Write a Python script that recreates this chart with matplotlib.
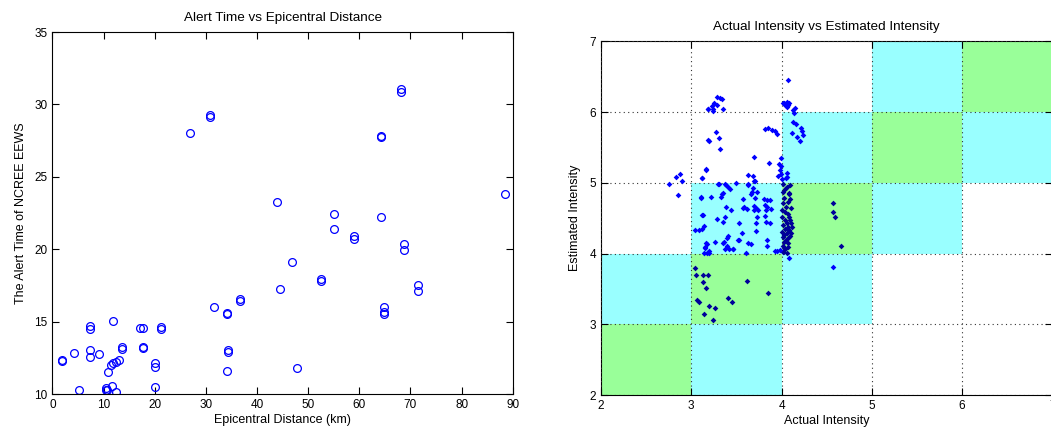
import matplotlib
matplotlib.use("Agg")
import matplotlib.pyplot as plt
from matplotlib.patches import Rectangle

plt.rcParams['font.family'] = ['Liberation Sans', 'DejaVu Sans']

# left panel: epicentral distance (km) vs alert time (s)
dist = [1.8, 1.8, 4.3, 5.3, 7.4, 7.4, 7.4, 7.4, 9.2, 10.5,
        10.4, 10.7, 11.9, 11.6, 12.5, 10.95, 11.4, 11.9, 12.5, 13.1,
        13.6, 13.6, 17.15, 17.8, 17.8, 17.8, 20.1, 20.1, 20.1, 21.2,
        21.2, 31.6, 34.2, 34.2, 34.4, 34.4, 34.2, 30.8, 30.8, 26.9,
        44.0, 55.0, 55.0, 58.9, 58.9, 46.9, 52.5, 52.5, 44.5, 36.6,
        36.6, 47.9, 68.2, 68.2, 64.3, 64.3, 88.5, 64.3, 68.65, 68.65,
        71.4, 71.4, 64.9, 64.9, 64.9]
alert = [12.38, 12.28, 12.85, 10.26, 14.70, 14.47, 13.04, 12.58, 12.74, 10.39,
         10.31, 10.28, 15.06, 10.55, 10.12, 11.54, 12.0, 12.16, 12.2, 12.35,
         13.27, 13.09, 14.58, 14.58, 13.27, 13.16, 12.16, 11.89, 10.5, 14.6,
         14.49, 15.99, 15.61, 15.52, 13.04, 12.92, 11.59, 29.27, 29.11, 28.05,
         23.24, 22.43, 21.37, 20.91, 20.73, 19.14, 17.96, 17.82, 17.23, 16.54,
         16.42, 11.8, 31.04, 30.88, 27.84, 27.74, 23.79, 22.2, 20.36, 19.94,
         17.53, 17.11, 16.03, 15.68, 15.52]

# right panel: actual vs estimated intensity
actual = [
    # left of 3
    2.75, 2.83, 2.87, 2.90, 2.85,
    # x 3-4, above 5
    3.18, 3.19, 3.16, 3.12,
    3.281, 3.318, 3.343, 3.255, 3.226, 3.281, 3.181, 3.237, 3.244, 3.354,
    3.27, 3.307, 3.20, 3.318,
    3.816, 3.853, 3.89, 3.926, 3.945,
    3.694, 3.864, 3.163, 3.118,
    3.625, 3.68, 3.694,
    3.307, 3.373, 3.49, 3.63, 3.705,
    3.99, 3.975, 3.99, 3.982, 3.993, 3.963, 4.01, 4.063, 4.056, 4.045,
    # x 4-4.3, above 5
    4.074,
    4.03, 4.056, 4.082, 4.038, 4.074, 4.056, 4.148, 4.019, 4.063, 4.122,
    4.14, 4.13, 4.156, 4.215, 4.23, 4.24, 4.167, 4.204, 4.112,
    # x 3-4, y 4-5
    3.30, 3.384, 3.41, 3.43, 3.63,
    3.68, 3.67, 3.66, 3.73,
    3.336, 3.326, 3.348,
    3.104, 3.215, 3.12, 3.107,
    3.576, 3.587, 3.57, 3.614,
    3.39, 3.436,
    3.694, 3.716, 3.694,
    3.805, 3.842, 3.816, 3.842, 3.827,
    3.126, 3.288, 3.348, 3.373,
    3.532, 3.558,
    3.73, 3.716, 3.827, 3.816,
    3.14, 3.115, 3.09, 3.04,
    3.41, 3.40, 3.716,
    3.362, 3.348, 3.262,
    3.532, 3.63, 3.66, 3.163,
    3.373, 3.42, 3.458, 3.40,
    3.14, 3.2, 3.606,
    3.842, 3.842,
    3.17, 3.155, 3.177, 3.15, 3.2,
    3.93, 3.95,
    3.742, 3.705, 3.871, 3.878, 3.871, 3.465, 3.52,
    # column just above 4
    4.019, 4.082, 4.067, 4.019, 4.045, 4.104, 4.038, 4.001, 4.082, 4.056,
    4.104, 4.119, 4.038, 4.082, 4.001, 4.056, 4.104, 4.019, 4.067, 4.03,
    4.074, 4.019, 4.067, 3.982, 4.019, 4.056, 4.082,
    4.02, 4.056, 4.093, 4.038, 4.082,
    4.03, 4.09, 4.01, 4.07, 4.04, 4.09, 4.02, 4.07, 4.03, 4.09, 4.05, 4.04,
    # x 4.5-4.7
    4.565, 4.565, 4.591, 4.654, 4.565,
    # x 3-4, y 3-4
    3.04, 3.05, 3.133, 3.19, 3.133, 3.16, 3.067, 3.089, 3.2, 3.262,
    3.144, 3.237, 3.41, 3.447, 3.62, 3.853,
]
estimated = [
    4.99, 5.08, 5.13, 5.02, 4.83,
    6.04, 5.60, 5.19, 5.07,
    6.21, 6.197, 6.18, 6.126, 6.092, 6.10, 6.04, 6.04, 6.017, 6.04,
    5.724, 5.63, 5.59, 5.48,
    5.757, 5.77, 5.75, 5.73, 5.69,
    5.362, 5.286, 5.18, 5.065,
    5.11, 5.10, 5.03,
    4.99, 4.98, 5.0, 4.99, 5.02,
    5.35, 5.27, 5.24, 5.18, 5.126, 5.097, 5.05, 5.145, 5.08, 5.065,
    6.455,
    6.134, 6.148, 6.134, 6.10, 6.10, 6.07, 6.055, 6.134, 6.088, 6.031,
    5.99, 5.866, 5.833, 5.772, 5.738, 5.677, 5.653, 5.597, 5.71,
    4.98, 4.97, 4.94, 4.91, 4.97,
    4.92, 4.875, 4.84, 4.875,
    4.84, 4.805, 4.86,
    4.80, 4.805, 4.54, 4.79,
    4.77, 4.655, 4.64, 4.627,
    4.66, 4.61,
    4.67, 4.64, 4.61,
    4.77, 4.75, 4.69, 4.655, 4.617,
    4.546, 4.485, 4.45, 4.51,
    4.43, 4.29,
    4.52, 4.43, 4.45, 4.53,
    4.39, 4.34, 4.33, 4.33,
    4.25, 4.22, 4.32,
    4.17, 4.155, 4.17,
    4.19, 4.155, 4.135, 4.155,
    4.065, 4.065, 4.065, 4.11,
    4.01, 4.01, 4.01,
    4.19, 4.10,
    4.13, 4.09, 4.013, 4.08, 4.03,
    4.03, 4.04,
    4.617, 4.782, 4.757, 4.626, 4.437, 4.07, 4.192,
    4.876, 4.853, 4.734, 4.711, 4.664, 4.64, 4.593, 4.522, 4.513, 4.428,
    4.428, 4.38, 4.343, 4.334, 4.31, 4.287, 4.296, 4.24, 4.216, 4.17,
    4.146, 4.108, 4.089, 4.05, 4.027, 4.004, 3.933,
    4.99, 4.946, 4.97, 4.91, 4.84,
    4.78, 4.77, 4.62, 4.56, 4.47, 4.48, 4.40, 4.37, 4.26, 4.25, 4.19, 4.06,
    4.71, 4.593, 4.522, 4.112, 3.805,
    3.79, 3.69, 3.69, 3.69, 3.60, 3.51, 3.34, 3.32, 3.26, 3.235,
    3.146, 3.06, 3.376, 3.31, 3.616, 3.44,
]

intensity_levels = [2, 3, 4, 5, 6, 7]

fig = plt.figure(figsize=(10.51, 4.36), dpi=100)

# ---- left: alert time vs distance
ax1 = fig.add_axes([0.0498, 0.0963, 0.4381, 0.8303])
ax1.plot(dist, alert, 'o', mfc='none', mec='blue', ms=5.6, mew=0.9)
ax1.set_xlim(0, 90)
ax1.set_ylim(10, 35)
ax1.set_xticks(range(0, 91, 10))
ax1.set_yticks(range(10, 36, 5))
ax1.tick_params(direction='in', top=True, right=True, length=5, labelsize=8.5, width=0.8)
ax1.set_title('Alert Time vs Epicentral Distance', fontsize=9.7, pad=8)
ax1.set_xlabel('Epicentral Distance (km)', fontsize=9, labelpad=2)
ax1.set_ylabel('The Alert Time of NCREE EEWS', fontsize=9, labelpad=5)

# ---- right: intensity comparison
ax2 = fig.add_axes([0.5718, 0.094, 0.4296, 0.8112])
for i in intensity_levels[:-1]:
    for j in intensity_levels[:-1]:
        if i == j:
            c = '#99ff99'
        elif abs(i - j) == 1:
            c = '#99ffff'
        else:
            continue
        ax2.add_patch(Rectangle((i, j), 1, 1, facecolor=c, edgecolor='none', zorder=0))

hit = [int(a) == int(e) for a, e in zip(actual, estimated)]
ax2.plot([a for a, h in zip(actual, hit) if h], [e for e, h in zip(estimated, hit) if h],
         'D', color='#000099', ms=2.9, mew=0, zorder=3)
ax2.plot([a for a, h in zip(actual, hit) if not h], [e for e, h in zip(estimated, hit) if not h],
         'D', color='#0000ff', ms=2.9, mew=0, zorder=3)

ax2.set_xlim(2, 7)
ax2.set_ylim(2, 7)
ax2.set_xticks(intensity_levels)
ax2.set_yticks(intensity_levels)
ax2.grid(True, linestyle=(0, (1, 3)), color='#333333', linewidth=0.8, zorder=2)
ax2.set_axisbelow(False)
ax2.tick_params(direction='in', top=True, right=True, length=5, labelsize=8.5, width=0.8)
ax2.set_title('Actual Intensity vs Estimated Intensity', fontsize=9.7, pad=8)
ax2.set_xlabel('Actual Intensity', fontsize=9, labelpad=2)
ax2.set_ylabel('Estimated Intensity', fontsize=9, labelpad=6)

fig.savefig('out.png', dpi=100)
